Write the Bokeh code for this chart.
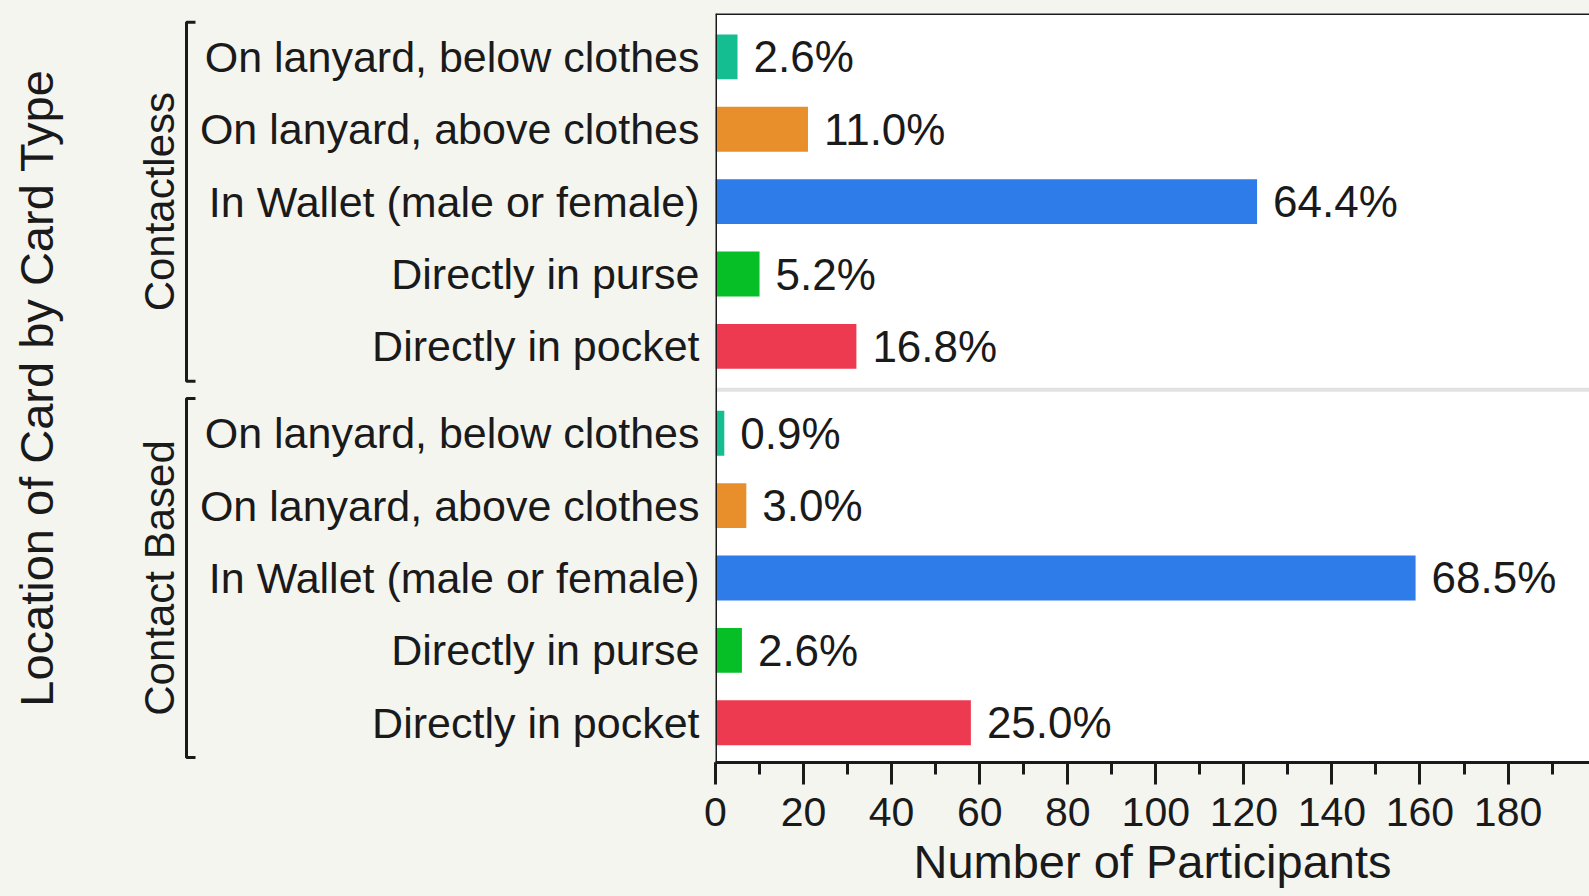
import math
from bokeh.plotting import figure
from bokeh.layouts import row
from bokeh.models import Range1d, Span, SingleIntervalTicker
from bokeh.core.properties import value
from bokeh.embed import file_html
from bokeh.resources import INLINE

# ---------------- data ----------------
groups = ["Contactless", "Contact Based"]
locations = [
    "On lanyard, below clothes",
    "On lanyard, above clothes",
    "In Wallet (male or female)",
    "Directly in purse",
    "Directly in pocket",
]
contactless_counts = [5, 21, 123, 10, 32]
contact_counts = [2, 7, 159, 6, 58]
contactless_pct = ["2.6%", "11.0%", "64.4%", "5.2%", "16.8%"]
contact_pct = ["0.9%", "3.0%", "68.5%", "2.6%", "25.0%"]
x_ticks_interval = 20
x_title = "Number of Participants"
y_title = "Location of Card by Card Type"

# ---------------- styling ----------------
BG = "#F5F5F0"
FONT = "Liberation Sans"
colors = ["#14BE91", "#E88E2A", "#2E7BEA", "#06BE26", "#EE3A50"]
GROUP_GAP = 1.2
BAR_H = 0.62

# positions: group blocks top -> bottom
n = len(locations)
ys, counts, pcts, cols, names, group_centers, group_bounds = [], [], [], [], [], [], []
all_counts = [contactless_counts, contact_counts]
all_pcts = [contactless_pct, contact_pct]
ngroups = len(groups)
for gi in range(ngroups):
    base = (ngroups - 1 - gi) * (n - 1 + GROUP_GAP)
    gys = []
    for i in range(n):
        y = base + (n - 1 - i)
        gys.append(y)
        ys.append(y)
        counts.append(all_counts[gi][i])
        pcts.append(all_pcts[gi][i])
        cols.append(colors[i])
        names.append(locations[i])
    group_centers.append((max(gys) + min(gys)) / 2)
    group_bounds.append((min(gys) - 0.48, max(gys) + 0.48))

y_start = min(ys) - 0.55
y_end = max(ys) + 0.6
yr = Range1d(y_start, y_end)

H = 890
TOP = 13
FRAME_H = 754
BOTTOM = H - TOP - FRAME_H
PAD = 14                 # room for the "0" tick label left of the frame
LEFT_W = 715 - PAD
RIGHT_FRAME_W = 874

# ---------------- left panel (labels) ----------------
left = figure(width=LEFT_W, height=H, x_range=Range1d(0, LEFT_W), y_range=yr,
              x_axis_location=None, y_axis_location=None, toolbar_location=None,
              output_backend="svg", min_border_left=0, min_border_right=0,
              min_border_top=TOP, min_border_bottom=BOTTOM)
left.grid.visible = False
left.outline_line_color = None
left.background_fill_color = BG
left.border_fill_color = BG

left.text(x=[699] * len(ys), y=ys, text=names, text_align="right", text_baseline="middle",
          text_font=value(FONT), text_font_size="43px", text_color="#1a1a1a")

left.text(x=[159] * ngroups, y=group_centers, text=groups, angle=math.pi / 2,
          text_align="center", text_baseline="middle",
          text_font=value(FONT), text_font_size="42px", text_color="#1a1a1a")

bx, bx_end = 186, 195
left.multi_line(xs=[[bx_end, bx, bx, bx_end] for _ in group_bounds],
                ys=[[b[1], b[1], b[0], b[0]] for b in group_bounds],
                line_color="#1a1a1a", line_width=3)

left.text(x=[36], y=[(y_start + y_end) / 2], text=[y_title], angle=math.pi / 2,
          text_align="center", text_baseline="middle",
          text_font=value(FONT), text_font_size="47px", text_color="#1a1a1a")

# ---------------- right panel (bars) ----------------
p = figure(width=RIGHT_FRAME_W + PAD, height=H, x_range=Range1d(0, 198.5), y_range=yr,
           y_axis_location=None, toolbar_location=None, output_backend="svg",
           min_border_left=PAD, min_border_right=0, min_border_top=TOP, min_border_bottom=BOTTOM)
p.grid.visible = False
p.outline_line_color = None
p.background_fill_color = "white"
p.border_fill_color = BG

p.hbar(y=ys, left=0, right=counts, height=BAR_H, fill_color=cols, line_color=None)
p.text(x=counts, y=ys, text=pcts, x_offset=16, text_align="left", text_baseline="middle",
       text_font=value(FONT), text_font_size="44px", text_color="#1a1a1a")

sep_y = (group_bounds[0][0] + group_bounds[1][1]) / 2
p.add_layout(Span(location=sep_y, dimension="width", line_color="#E2E2E2", line_width=4))
p.add_layout(Span(location=0, dimension="height", line_color="#1a1a1a", line_width=3))
p.add_layout(Span(location=y_end, dimension="width", line_color="#1a1a1a", line_width=3))

ax = p.xaxis[0]
ax.ticker = SingleIntervalTicker(interval=x_ticks_interval, num_minor_ticks=2)
ax.axis_line_width = 3
ax.axis_line_color = "#1a1a1a"
ax.major_tick_line_width = 3
ax.minor_tick_line_width = 3
ax.major_tick_line_color = "#1a1a1a"
ax.minor_tick_line_color = "#1a1a1a"
ax.major_tick_in = 0
ax.major_tick_out = 22
ax.minor_tick_in = 0
ax.minor_tick_out = 12
ax.major_label_standoff = 13
ax.major_label_text_font = FONT
ax.major_label_text_font_size = "41px"
ax.major_label_text_color = "#1a1a1a"
ax.axis_label = x_title
ax.axis_label_text_font = FONT
ax.axis_label_text_font_size = "47px"
ax.axis_label_text_font_style = "normal"
ax.axis_label_text_color = "#1a1a1a"
ax.axis_label_standoff = 6

layout = row(left, p)
html = file_html(layout, INLINE)
html = html.replace("<head>", "<head><style>html,body{background:%s;}</style>" % BG, 1)
open("out.html", "w").write(html)
